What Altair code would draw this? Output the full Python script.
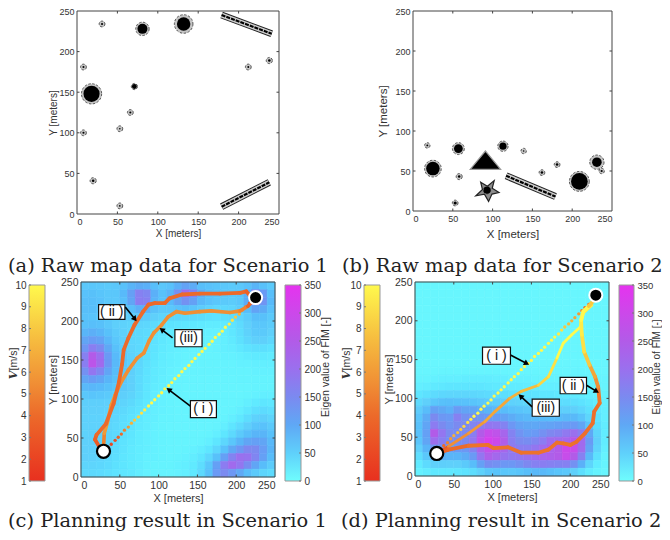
import altair as alt
import pandas as pd
import numpy as np

W, H = 654, 524
SANS = "Liberation Sans"
INK = "#333333"
TICKS = [0, 50, 100, 150, 200, 250]
V_TICKS = [1, 2, 3, 4, 5, 6, 7, 8, 9, 10]
F_TICKS = [0, 50, 100, 150, 200, 250, 300, 350]

# ---- panel (a) obstacles
a_cx = [18, 132, 81, 31, 8, 71, 66, 53, 8, 20, 53, 212, 238]
a_cy = [148, 234, 228, 234, 181, 157, 125, 105, 100, 41, 10, 181, 189]
a_core = [10, 8.3, 6.2, 1.3, 1.3, 3, 1.3, 1, 1.3, 1.6, 1, 1.2, 1.6]
a_ring = [12.5, 11.5, 8.3, 3.6, 3.6, 3.8, 3.6, 3.6, 3.6, 3.8, 3.6, 3.6, 3.8]
a_wall_x = [179, 179]
a_wall_y = [245, 9]
a_wall_x2 = [241, 238]
a_wall_y2 = [222, 39]

# ---- panel (b) obstacles
b_cx = [25, 57, 113, 209, 231, 18, 58, 53, 139, 162, 181, 237]
b_cy = [53, 78, 81, 37, 61, 82, 43, 10, 75, 48, 58, 50]
b_core = [8.5, 5.5, 4.5, 10.5, 6, 1.2, 1.6, 2, 1, 1.6, 1.6, 1.4]
b_ring = [10.5, 7.5, 6.5, 12.5, 9, 3.4, 3.8, 3.6, 3.4, 3.6, 3.6, 3.4]
b_wall_x = [117]
b_wall_y = [44]
b_wall_x2 = [179]
b_wall_y2 = [18]
b_tri_x, b_tri_y = [91], [63.5]
b_star_x, b_star_y = [93], [26]

# ---- FIM maps: rows from y=245 down to y=5, columns x=5..245 (10 m cells)
c_fim = [
 [60,62,60,58,62,70,85,95,90,72,62,68,90,110,95,72,68,65,60,58,60,68,85,70,58],
 [68,70,65,60,62,78,115,170,160,90,70,85,140,205,165,95,75,70,62,60,65,90,170,125,72],
 [72,72,68,60,60,72,105,175,170,85,68,78,110,140,115,80,68,62,58,55,62,95,175,135,78],
 [72,72,68,58,55,60,72,90,88,68,58,60,68,72,65,55,48,42,42,45,55,75,110,95,68],
 [68,66,62,55,50,52,55,60,58,50,45,42,42,40,38,36,32,30,32,36,45,55,72,70,58],
 [70,72,70,60,52,48,45,45,42,38,32,30,28,26,24,22,20,20,22,28,38,50,62,62,55],
 [85,92,85,70,56,50,42,40,38,32,26,22,20,18,16,16,14,14,18,25,35,48,58,58,50],
 [105,120,110,82,62,52,42,40,36,30,24,20,18,16,14,14,12,14,16,22,32,42,50,50,42],
 [130,175,150,100,70,55,45,40,34,28,22,18,16,14,12,12,12,14,16,18,24,30,34,34,30],
 [170,250,205,125,78,58,48,42,34,26,20,16,14,12,12,12,12,12,14,14,16,20,22,22,20],
 [175,270,215,130,80,60,50,42,32,24,18,16,14,12,12,12,12,12,12,12,14,14,16,16,16],
 [140,190,160,105,75,60,52,40,30,22,18,14,12,12,12,12,12,12,12,12,12,12,14,14,14],
 [105,120,105,85,70,60,50,38,28,22,16,14,12,12,10,10,10,10,10,10,12,12,12,12,12],
 [80,82,78,70,62,58,50,38,26,20,16,14,12,10,10,10,10,10,10,10,10,10,12,12,12],
 [62,64,62,58,54,52,46,36,26,20,14,12,12,10,10,10,10,10,10,10,10,12,14,16,16],
 [52,52,52,50,48,46,40,32,24,18,14,12,10,10,10,10,10,10,10,10,12,16,22,26,24],
 [50,50,50,48,45,40,34,28,22,16,14,12,10,10,10,10,10,10,10,12,16,24,34,38,34],
 [48,48,48,46,42,36,30,24,18,16,12,12,10,10,10,10,10,10,12,16,24,36,48,52,45],
 [48,48,48,45,40,34,28,22,18,14,12,10,10,10,10,10,10,12,16,26,38,52,65,68,58],
 [48,50,48,45,40,32,26,20,16,14,12,10,10,10,10,10,12,16,26,40,58,72,85,85,70],
 [50,50,48,45,38,30,24,20,16,14,12,10,10,10,10,12,16,26,42,62,85,105,115,105,80],
 [50,50,48,42,36,28,22,18,16,14,12,10,10,12,14,18,26,42,68,100,130,155,150,120,85],
 [50,48,45,40,34,26,22,18,14,14,12,10,12,14,18,26,42,70,115,165,200,195,160,115,75],
 [45,45,42,38,32,26,22,18,14,12,12,12,14,16,22,36,62,115,180,215,190,145,105,75,55],
 [40,40,38,34,30,26,24,18,14,12,12,12,14,16,24,40,70,125,150,130,100,75,58,45,38],
]
d_fim = [
 [8,8,8,8,8,8,8,8,8,8,8,8,8,8,8,8,8,8,8,8,8,8,8,8,8],
 [8,8,8,8,8,8,8,8,8,8,8,8,8,8,8,8,8,8,8,8,8,8,8,8,8],
 [8,8,8,8,8,8,8,8,8,8,8,8,8,8,8,8,8,8,8,8,8,8,8,8,8],
 [8,8,8,8,8,8,8,8,8,8,8,8,8,8,8,8,8,8,8,8,8,8,8,8,8],
 [8,8,8,8,8,8,8,8,8,8,8,8,8,8,8,8,8,8,8,8,8,8,8,8,8],
 [8,8,8,8,8,8,8,8,8,8,8,8,8,8,8,8,8,8,8,8,8,8,8,8,8],
 [8,8,8,8,8,8,8,8,8,8,8,8,8,8,8,8,8,8,8,8,8,8,8,8,8],
 [8,8,8,8,8,8,8,8,8,8,8,8,8,8,8,8,8,8,8,8,8,8,8,8,8],
 [8,8,8,8,8,8,8,8,8,8,8,8,8,8,8,8,8,8,8,8,8,8,8,8,8],
 [8,8,8,8,8,8,8,8,8,8,8,8,8,8,8,8,8,8,8,8,8,8,8,8,8],
 [8,8,8,8,8,8,8,8,8,8,8,8,8,8,8,8,8,8,8,8,8,8,8,8,8],
 [9,9,9,10,10,10,10,10,10,10,10,9,9,9,9,9,9,9,9,9,9,9,8,8,8],
 [12,12,14,16,16,16,18,18,18,18,16,16,14,14,14,12,12,12,12,12,12,12,10,10,10],
 [16,18,22,24,26,26,26,26,26,24,22,22,20,20,18,18,16,16,16,16,14,14,12,12,10],
 [26,32,38,42,44,44,44,42,40,38,36,34,32,30,30,28,26,26,24,24,22,20,16,14,12],
 [40,50,62,70,72,70,68,64,60,56,54,52,48,46,44,42,40,38,36,36,34,30,24,18,14],
 [55,75,112,100,90,125,108,105,95,85,80,75,68,64,60,58,56,54,52,52,50,42,32,22,16],
 [65,95,150,130,125,170,140,140,130,125,120,110,95,85,80,78,78,75,75,80,80,66,44,28,16],
 [70,105,180,150,135,150,150,160,175,190,185,165,130,110,100,100,105,110,115,120,125,105,65,35,18],
 [70,115,250,190,150,145,150,175,250,290,275,225,165,135,120,125,140,155,165,185,200,175,100,45,20],
 [65,105,205,175,145,145,150,190,280,320,300,245,175,150,145,160,180,210,215,225,255,215,125,50,20],
 [50,85,135,130,120,125,130,165,235,280,265,225,185,175,175,190,210,235,250,300,290,210,110,45,16],
 [35,60,90,90,85,85,95,125,190,240,220,195,185,190,200,215,230,240,250,290,250,170,80,32,12],
 [22,38,50,52,50,50,58,75,115,145,140,130,130,140,155,170,175,170,165,170,140,90,45,20,10],
 [14,20,24,24,24,26,30,36,48,62,66,62,60,64,72,80,80,72,64,60,50,34,20,12,8],
]

# ---- trajectories, panel (c)
c1_x = [35,39,44,48,52,56,61,65,69,74,78,82,87,91,95,100,104,108,113,117,121,126,130,134,139,143,147,152,156,160,165,169,173,178,182,186,191,195,199,204,208,212,217,221]
c1_y = [38,42,47,51,55,60,64,69,73,77,82,86,91,95,99,104,108,113,117,121,126,130,135,139,143,148,152,157,161,165,170,174,179,183,187,192,196,201,205,209,214,218,223,227]
c1_v = [1.5,2,2.5,3.5,4,5,6,7,8,8.5,9,9.5,10,10,10,10,10,10,10,10,10,10,10,10,10,10,10,10,10,10,10,10,10,10,10,10,9.5,9,8,7,5.5,4,3,2]
c2_x = [24,18,20,32,42,49,53,55,61,69,80,87,95,108,114,130,153,179,205,213,218,225]
c2_y = [38,48,54,68,94,122,145,163,178,195,212,221,223,223,229,234,235,235,236,238,232,230]
c2_v = [3,3.5,4,4,4,4,4,4,4,4,4,4,4,4,4,4,4,4,4,3.5,3,2]
c3_x = [29,30,34,39,44,52,61,72,81,88,94,104,112,123,134,153,168,192,205,215,224]
c3_y = [38,56,70,92,105,122,137,152,159,175,185,195,205,212,210,212,213,211,213,219,229]
c3_v = [5,6,6,6,5.5,5.5,5.5,5.5,5.5,5.5,5.5,5.5,5.5,5.5,5.5,5.5,5.5,5.5,5,3.5,2]

# ---- trajectories, panel (d)
d1_x = [33,37,42,46,50,55,59,63,68,72,76,81,85,89,94,98,102,107,111,115,120,124,128,133,137,141,146,150,154,159,163,167,172,176,180,185,189,193,198,202,206,211,215,219,224]
d1_y = [35,39,43,48,52,56,60,64,69,73,77,81,86,90,94,98,103,107,111,115,120,124,128,132,137,141,145,149,154,158,162,166,171,175,179,183,188,192,196,200,204,209,213,217,221]
d1_v = [3,4,5,6,7,7.5,8,8.5,9,9.5,10,10,10,10,10,10,10,10,10,10,10,10,10,10,10,10,10,10,10,10,10,10,10,10,10,9.5,9,8,7.5,7,6.5,6,5,4,3]
d2_x = [28,43,69,94,101,120,137,159,172,183,191,200,208,219,229,231,238,236,232,225,218,215,214,217,224,231]
d2_y = [29,34,39,40,36,37,30,30,34,43,42,40,44,55,68,83,94,115,128,143,160,182,201,212,219,227]
d2_v = [3.5,4,4.3,4.3,4.3,4.3,4.3,4.3,4.3,4.3,4.3,4.3,4.2,4.2,4.2,4.2,4.5,5.5,6.5,8,9,9.5,10,10,8,3]
d3_x = [28,43,69,90,103,122,137,159,172,183,191,202,213,217,228]
d3_y = [29,38,55,70,83,100,109,117,128,152,171,182,192,210,220]
d3_v = [3,5.5,6,6.5,6.5,7,7.5,8.5,9,10,10,10,10,9.5,3]

# ---- annotation boxes and arrows
c_lab = ["( ii )", "(iii)", "( i )"]
c_box = [[22.7, 56.6, 202, 221], [121, 156, 167, 189], [141, 174.5, 76, 98]]
c_arrow = [[57, 218, 69.5, 202.5], [118, 178.5, 104, 189], [141, 91, 113, 112]]
d_lab = ["( i )", "( ii )", "(iii)"]
d_box = [[87, 123, 144, 166], [187, 221, 106, 127], [151, 186, 77, 99]]
d_arrow = [[123, 156, 144, 145], [221, 117, 234, 109], [151, 89, 136, 103]]

# ---- captions
captions = [
    ("(a) Raw map data for Scenario 1", 8, 272),
    ("(b) Raw map data for Scenario 2", 342, 272),
    ("(c) Planning result in Scenario 1", 8, 527),
    ("(d) Planning result in Scenario 2", 341, 527),
]

V_DOMAIN = [1, 4, 5.5, 7.5, 10]
V_RANGE = ["#e8301f", "#ec6a2a", "#f08f35", "#f6bc3f", "#fff94d"]
V_SCALE = alt.Scale(domain=V_DOMAIN, range=V_RANGE)
F_DOMAIN = [0, 50, 100, 150, 200, 250, 300, 350]
F_RANGE = ["#6ffdfd", "#5fd0fb", "#5fa8f5", "#7b8af0", "#9a70ee", "#b25be8", "#cc48ea", "#e533ef"]
F_SCALE = alt.Scale(domain=F_DOMAIN, range=F_RANGE)


def px(l, r, t, b):
    return l - 8, r - 8, t - 8, b - 8


class Panel:
    def __init__(self, l, r, t, b):
        self.l, self.r, self.t, self.b = px(l, r, t, b)
        self.xs = alt.Scale(domain=[0, 250], range=[self.l, self.r], nice=False, zero=False)
        self.ys = alt.Scale(domain=[0, 250], range=[self.b, self.t], nice=False, zero=False)

    def X(self, f="x", axis=alt.Undefined):
        return alt.X(f + ":Q", scale=self.xs, axis=axis)

    def Y(self, f="y", axis=alt.Undefined):
        return alt.Y(f + ":Q", scale=self.ys, axis=axis)

    def frame(self, tick_font, title_font, x_title_pad=2, y_title_pad=4):
        ax = alt.Axis(orient="bottom", offset=self.b - H, values=TICKS, grid=False, ticks=False, domain=False,
                      labelPadding=3, labelFont=SANS, labelFontSize=tick_font, labelColor=INK,
                      title="X [meters]", titleFont=SANS, titleFontSize=title_font, titleFontWeight="normal",
                      titleColor=INK, titlePadding=x_title_pad)
        ay = alt.Axis(orient="left", offset=-self.l, values=TICKS, grid=False, ticks=False, domain=False,
                      labelPadding=3, labelFont=SANS, labelFontSize=tick_font, labelColor=INK,
                      title="Y [meters]", titleFont=SANS, titleFontSize=title_font, titleFontWeight="normal",
                      titleColor=INK, titlePadding=y_title_pad)
        box = alt.Chart(pd.DataFrame({"a": [0], "b": [250]})).mark_rect(fillOpacity=0, stroke="#444444", strokeWidth=1).encode(
            x=self.X("a", ax), x2="b:Q", y=self.Y("a", ay), y2="b:Q")
        t = pd.DataFrame({"t": TICKS[1:-1]})
        rule = alt.Chart(t).mark_rule(color="#444444", strokeWidth=1)
        return [
            box,
            rule.encode(x=self.X("t"), y=alt.value(self.b), y2=alt.value(self.b - 2.5)),
            rule.encode(x=self.X("t"), y=alt.value(self.t), y2=alt.value(self.t + 2.5)),
            rule.encode(y=self.Y("t"), x=alt.value(self.l), x2=alt.value(self.l + 2.5)),
            rule.encode(y=self.Y("t"), x=alt.value(self.r), x2=alt.value(self.r - 2.5)),
        ]

    def heat(self, grid):
        rows = []
        for i, row in enumerate(grid):
            y0 = 240 - i * 10
            for j, v in enumerate(row):
                rows.append({"x": j * 10, "x1": j * 10 + 10, "y": y0, "y1": y0 + 10, "v": v})
        return alt.Chart(pd.DataFrame(rows)).mark_rect(strokeWidth=0.6).encode(
            x=self.X("x"), x2="x1:Q", y=self.Y("y"), y2="y1:Q",
            fill=alt.Fill("v:Q", scale=F_SCALE, legend=None),
            stroke=alt.Stroke("v:Q", scale=F_SCALE, legend=None))

    def discs(self, cx, cy, core, ring):
        k = (self.r - self.l) / 250 * 2
        df = pd.DataFrame({"x": cx, "y": cy, "c": (np.array(core) * k) ** 2, "r": (np.array(ring) * k) ** 2})
        base = alt.Chart(df)
        return [
            base.mark_point(filled=True, fill="#c4c4c4", stroke="#333333", strokeWidth=0.8, strokeDash=[2.5, 1.5], opacity=1).encode(
                x=self.X(), y=self.Y(), size=alt.Size("r:Q", scale=None)),
            base.mark_point(filled=True, fill="black", stroke=None, opacity=1).encode(
                x=self.X(), y=self.Y(), size=alt.Size("c:Q", scale=None)),
        ]

    def walls(self, x, y, x2, y2):
        base = alt.Chart(pd.DataFrame({"x": x, "y": y, "x2": x2, "y2": y2}))
        enc = dict(x=self.X(), x2="x2:Q", y=self.Y(), y2="y2:Q")
        return [
            base.mark_rule(color="#222222", strokeWidth=7).encode(**enc),
            base.mark_rule(color="#cfcfcf", strokeWidth=5).encode(**enc),
            base.mark_rule(color="black", strokeWidth=2.2, strokeDash=[4, 1]).encode(**enc),
        ]

    def path(self, xs, ys, vs, width):
        df = pd.DataFrame({"x": xs[:-1], "y": ys[:-1], "x2": xs[1:], "y2": ys[1:], "V": vs[:-1]})
        return alt.Chart(df).mark_rule(strokeWidth=width, strokeCap="round").encode(
            x=self.X(), x2="x2:Q", y=self.Y(), y2="y2:Q",
            color=alt.Color("V:Q", scale=V_SCALE, legend=None))

    def dots(self, xs, ys, vs, size):
        df = pd.DataFrame({"x": xs, "y": ys, "V": vs})
        return alt.Chart(df).mark_circle(size=size, opacity=1).encode(
            x=self.X(), y=self.Y(), color=alt.Color("V:Q", scale=V_SCALE, legend=None))

    def notes(self, labels, boxes, arrows):
        b = np.array(boxes, dtype=float)
        df = pd.DataFrame({"t": labels, "x0": b[:, 0], "x1": b[:, 1], "y0": b[:, 2], "y1": b[:, 3],
                           "xm": b[:, :2].mean(axis=1), "ym": b[:, 2:].mean(axis=1)})
        a = np.array(arrows, dtype=float)
        ang = np.degrees(np.arctan2(a[:, 2] - a[:, 0], a[:, 3] - a[:, 1])) % 360
        ad = pd.DataFrame({"x": a[:, 0], "y": a[:, 1], "x2": a[:, 2], "y2": a[:, 3], "ang": ang})
        return [
            alt.Chart(ad).mark_rule(color="black", strokeWidth=1.6).encode(
                x=self.X(), x2="x2:Q", y=self.Y(), y2="y2:Q"),
            alt.Chart(ad).mark_point(shape="triangle-up", filled=True, fill="black", size=38, opacity=1, stroke=None).encode(
                x=self.X("x2"), y=self.Y("y2"), angle=alt.Angle("ang:Q", scale=None)),
            alt.Chart(df).mark_rect(fill="white", stroke="#111111", strokeWidth=1.2).encode(
                x=self.X("x0"), x2="x1:Q", y=self.Y("y0"), y2="y1:Q"),
            alt.Chart(df).mark_text(font=SANS, fontSize=14, color="#111111").encode(
                x=self.X("xm"), y=self.Y("ym"), text="t:N"),
        ]

    def ends(self, sx, sy, gx, gy):
        s = pd.DataFrame({"x": [sx], "y": [sy]})
        g = pd.DataFrame({"x": [gx], "y": [gy]})
        return [
            alt.Chart(s).mark_point(filled=True, fill="white", stroke="black", strokeWidth=2.2, size=170, opacity=1).encode(
                x=self.X(), y=self.Y()),
            alt.Chart(g).mark_point(filled=True, fill="black", stroke="white", strokeWidth=2, size=170, opacity=1).encode(
                x=self.X(), y=self.Y()),
        ]


def shape_mark(p, x, y, path, size, fill, stroke):
    return alt.Chart(pd.DataFrame({"x": x, "y": y})).mark_point(
        shape=path, size=size, filled=True, fill=fill, stroke=stroke, strokeWidth=1.2, opacity=1
    ).encode(x=p.X(), y=p.Y())


def bar(l, r, t, b, lo, hi, ticks, scale_stops, orient, font=10):
    l, r, t, b = px(l, r, t, b)
    ys = alt.Scale(domain=[lo, hi], range=[b, t], nice=False, zero=False)
    off = -l if orient == "left" else r - W
    ax = alt.Axis(orient=orient, offset=off, values=ticks, grid=False, ticks=False, domain=False, labelPadding=3,
                  labelFont=SANS, labelFontSize=font, labelColor=INK, title=None, format="d")
    grad = alt.Gradient(gradient="linear", x1=0, y1=1, x2=0, y2=0,
                        stops=[alt.GradientStop(offset=o, color=c) for o, c in scale_stops])
    df = pd.DataFrame({"lo": [lo], "hi": [hi]})
    rect = alt.Chart(df).mark_rect(fill=grad, stroke="#999999", strokeWidth=1).encode(
        y=alt.Y("lo:Q", scale=ys, axis=ax), y2="hi:Q", x=alt.value(l), x2=alt.value(r))
    edge = (l, l + 2) if orient == "left" else (r, r - 2)
    tk = alt.Chart(pd.DataFrame({"t": ticks})).mark_rule(color="#777777", strokeWidth=1).encode(
        y=alt.Y("t:Q", scale=ys), x=alt.value(edge[0]), x2=alt.value(edge[1]))
    return alt.layer(rect, tk)


V_STOPS = [((v - 1) / 9, c) for v, c in zip(V_DOMAIN, V_RANGE)]
F_STOPS = [(v / 350, c) for v, c in zip(F_DOMAIN, F_RANGE)]


def label(text, x, y, **kw):
    opts = dict(font=SANS, fontSize=10.5, color=INK, align="center", baseline="middle")
    opts.update(kw)
    return alt.Chart(pd.DataFrame({"t": [text]})).mark_text(**opts).encode(
        x=alt.value(x - 8), y=alt.value(y - 8), text="t:N")


pa = Panel(77, 279, 11, 214)
pb = Panel(413, 612, 11, 211)
pc = Panel(81, 275, 282, 477)
pd_ = Panel(415, 609, 282, 476)

TRI = "M0,-0.605L-1,0.605L1,0.605Z"
STAR = "M-0.49,-0.62L0.03,-0.3L0.55,-0.74L0.4,-0.15L0.92,0.18L0.38,0.3L0.12,0.86L-0.2,0.3L-0.86,0.43L-0.35,-0.05Z"

layer_a = alt.layer(*pa.discs(a_cx, a_cy, a_core, a_ring), *pa.walls(a_wall_x, a_wall_y, a_wall_x2, a_wall_y2),
                    *pa.frame(9, 10, y_title_pad=0))
layer_b = alt.layer(*pb.discs(b_cx, b_cy, b_core, b_ring), *pb.walls(b_wall_x, b_wall_y, b_wall_x2, b_wall_y2),
                    shape_mark(pb, b_tri_x, b_tri_y, TRI, 924, "black", "#9a9a9a"),
                    shape_mark(pb, b_star_x, b_star_y, STAR, 676, "#8c8c8c", "#222222"),
                    *pb.discs(b_star_x, b_star_y, [4.5], [4.5]),
                    *pb.frame(9, 11.5, x_title_pad=5, y_title_pad=6))
layer_c = alt.layer(pc.heat(c_fim), pc.dots(c1_x, c1_y, c1_v, 11),
                    pc.path(c3_x, c3_y, c3_v, 3.6), pc.path(c2_x, c2_y, c2_v, 3.8),
                    *pc.notes(c_lab, c_box, c_arrow), *pc.ends(29, 33, 225, 230),
                    *pc.frame(10.5, 11, y_title_pad=2)).resolve_scale(color="independent", fill="independent", stroke="independent")
layer_d = alt.layer(pd_.heat(d_fim), pd_.dots(d1_x, d1_y, d1_v, 11),
                    pd_.path(d3_x, d3_y, d3_v, 2.8), pd_.path(d2_x, d2_y, d2_v, 3.8),
                    *pd_.notes(d_lab, d_box, d_arrow), *pd_.ends(28, 29, 233, 233),
                    *pd_.frame(10.5, 11, y_title_pad=0)).resolve_scale(color="independent", fill="independent", stroke="independent")

texts = [
    label("[m/s]", 14, 359, angle=270, fontSize=10.5),
    label("V", 14, 375, angle=270, fontSize=11, font="DejaVu Serif", fontStyle="italic", fontWeight="bold"),
    label("[m/s]", 347, 359, angle=270, fontSize=10.5),
    label("V", 347, 375, angle=270, fontSize=11, font="DejaVu Serif", fontStyle="italic", fontWeight="bold"),
    label("Eigen value of FIM [-]", 326, 367, angle=270, fontSize=10.5),
    label("Eigen value of FIM [-]", 657, 367, angle=270, fontSize=10),
]
caps = [label(t, x, y, align="left", baseline="alphabetic", font="DejaVu Serif", fontSize=19.4, color="#222222") for t, x, y in captions]

chart = alt.layer(
    layer_a, layer_b, layer_c, layer_d,
    bar(29, 45, 285, 481, 1, 10, V_TICKS, V_STOPS, "left"),
    bar(285, 301, 285, 481, 0, 350, F_TICKS, F_STOPS, "right"),
    bar(364, 380, 285, 481, 1, 10, V_TICKS, V_STOPS, "left"),
    bar(619, 634, 285, 481, 0, 350, F_TICKS, F_STOPS, "right", font=9.5),
    *texts, *caps,
).resolve_scale(x="independent", y="independent", color="independent", fill="independent", stroke="independent").resolve_axis(
    x="independent", y="independent"
).properties(width=W, height=H, padding=0, autosize=alt.AutoSizeParams(type="none")).configure_view(stroke=None)

chart.save("out.html", embed_options={"renderer": "svg", "actions": False})
